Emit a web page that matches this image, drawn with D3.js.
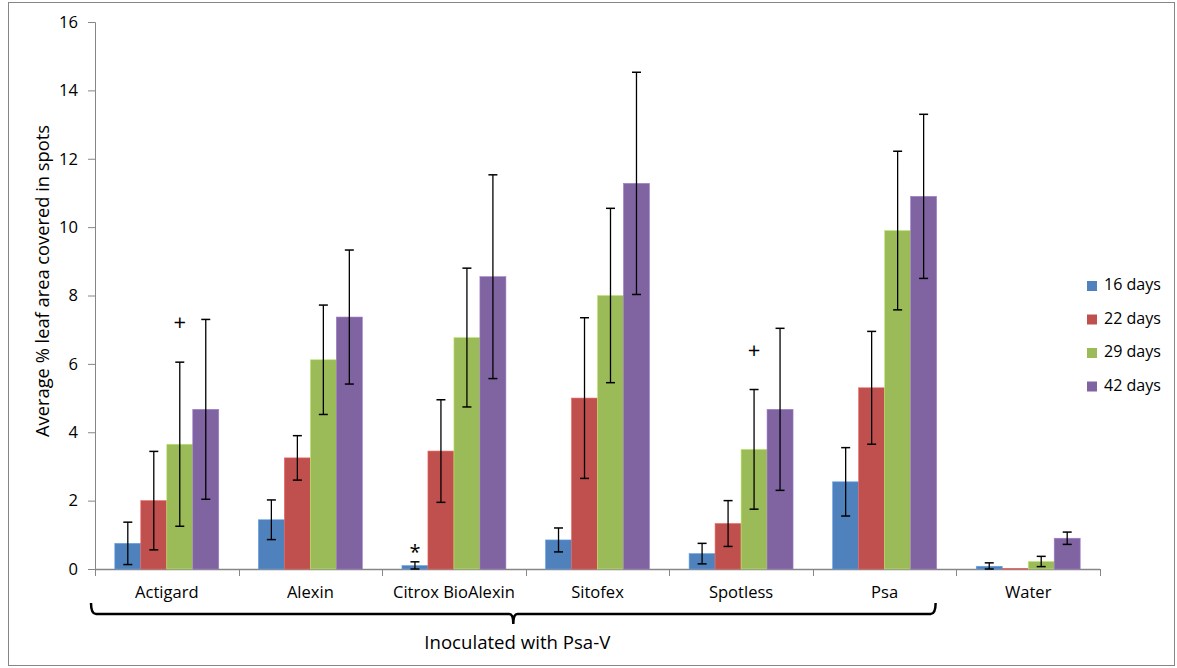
<!DOCTYPE html>
<html>
<head>
<meta charset="utf-8">
<script src="https://cdn.jsdelivr.net/npm/d3@7"></script>
<style>
  body { margin: 0; background: #fff; }
  svg text { font-family: "Open Sans", sans-serif; fill: #000; }
</style>
</head>
<body>
<svg id="chart" width="1177" height="668"></svg>
<script>
// data
const categories = ['Actigard', 'Alexin', 'Citrox BioAlexin', 'Sitofex', 'Spotless', 'Psa', 'Water']
const seriesNames = ['16 days', '22 days', '29 days', '42 days']
const colors = ['#4f81bd', '#c0504d', '#9bbb59', '#8064a2']

const days16 = [0.75, 1.44, 0.10, 0.85, 0.45, 2.55, 0.08]
const days22 = [2.00, 3.25, 3.45, 5.00, 1.33, 5.30, 0.01]
const days29 = [3.65, 6.12, 6.77, 8.00, 3.50, 9.90, 0.22]
const days42 = [4.67, 7.37, 8.55, 11.28, 4.67, 10.90, 0.90]

const err16 = [0.62, 0.58, 0.11, 0.35, 0.30, 1.00, 0.10]
const err22 = [1.44, 0.65, 1.50, 2.35, 0.67, 1.65, 0]
const err29 = [2.40, 1.60, 2.03, 2.55, 1.75, 2.32, 0.15]
const err42 = [2.63, 1.96, 2.98, 3.25, 2.37, 2.40, 0.18]

const yTicks = [0, 2, 4, 6, 8, 10, 12, 14, 16]

// significance markers: [category, series index, symbol, value]
const markers = [['Actigard', 2, '+', 7.15], ['Citrox BioAlexin', 0, '*', 0.45], ['Spotless', 2, '+', 6.35]]

const values = [days16, days22, days29, days42]
const errors = [err16, err22, err29, err42]

let svg = d3.select('#chart')

// pick a font size so that a sample string is about as wide as in the picture
function fitSize(sample, targetWidth) {
    let t = svg.append('text').attr('font-size', 20).text(sample)
    let w = t.node().getComputedTextLength()
    t.remove()
    return 20 * targetWidth / w
}
let catSize = fitSize('Citrox BioAlexin', 122)
let labelSize = fitSize('Average % leaf area covered in spots', 312)
let legendSize = fitSize('16 days', 57)
let noteSize = fitSize('Inoculated with Psa-V', 186)

// outer chart border
svg.append('rect')
    .attr('x', 8.5).attr('y', 2.5)
    .attr('width', 1166).attr('height', 663)
    .attr('fill', 'none').attr('stroke', '#868686')

let mLeft = 95, mRight = 1100, mTop = 22, mBottom = 569

let x0 = d3.scaleBand()
    .domain(categories)
    .range([mLeft, mRight])
    .paddingInner(0.276)
    .paddingOuter(0.138)

let step = (mRight - mLeft) / categories.length

let x1 = d3.scaleBand()
    .domain(d3.range(seriesNames.length))
    .range([0, x0.bandwidth()])

let y = d3.scaleLinear().domain([0, 16]).range([mBottom, mTop])

// y axis
let yAxis = svg.append('g')
    .attr('transform', `translate(${mLeft},0)`)
    .call(d3.axisLeft(y).tickValues(yTicks).tickSize(7).tickPadding(10))
yAxis.select('.domain').attr('stroke', '#868686')
yAxis.selectAll('.tick line').attr('stroke', '#868686')
yAxis.selectAll('.tick text').attr('font-size', catSize).attr('font-family', '"Open Sans", sans-serif')

// x axis (ticks between categories)
svg.append('line')
    .attr('x1', mLeft).attr('x2', mRight)
    .attr('y1', mBottom + 0.5).attr('y2', mBottom + 0.5)
    .attr('stroke', '#868686').attr('stroke-width', 1.5)
svg.selectAll('line.xtick')
    .data(d3.range(categories.length + 1))
    .enter().append('line')
    .attr('class', 'xtick')
    .attr('x1', i => Math.round(mLeft + i * step) + 0.5)
    .attr('x2', i => Math.round(mLeft + i * step) + 0.5)
    .attr('y1', mBottom).attr('y2', mBottom + 7)
    .attr('stroke', '#868686')

svg.selectAll('text.cat')
    .data(categories)
    .enter().append('text')
    .attr('class', 'cat')
    .attr('x', d => x0(d) + x0.bandwidth() / 2)
    .attr('y', mBottom + 29)
    .attr('text-anchor', 'middle')
    .attr('font-size', catSize)
    .text(d => d)

// y label
svg.append('text')
    .attr('transform', `translate(49,281) rotate(-90)`)
    .attr('text-anchor', 'middle')
    .attr('font-size', labelSize)
    .text('Average % leaf area covered in spots')

// bars
let groups = svg.selectAll('g.group')
    .data(categories)
    .enter().append('g')
    .attr('class', 'group')
    .attr('transform', d => `translate(${x0(d)},0)`)

groups.each(function (cat, ci) {
    let g = d3.select(this)
    seriesNames.forEach((s, si) => {
        let v = values[si][ci], e = errors[si][ci]
        g.append('rect')
            .attr('x', x1(si))
            .attr('y', y(v))
            .attr('width', x1.bandwidth())
            .attr('height', mBottom - y(v))
            .attr('fill', colors[si])
            .attr('stroke', d3.color(colors[si]).brighter(0.6))
            .attr('stroke-width', 0.6)
        if (e > 0) {
            let cx = x1(si) + x1.bandwidth() / 2
            let yt = y(v + e), yb = y(Math.max(0, v - e))
            g.append('line').attr('x1', cx).attr('x2', cx).attr('y1', yt).attr('y2', yb)
                .attr('stroke', '#000').attr('stroke-width', 1.3)
            ;[yt, yb].forEach(yy => {
                g.append('line').attr('x1', cx - 4.5).attr('x2', cx + 4.5).attr('y1', yy).attr('y2', yy)
                    .attr('stroke', '#000').attr('stroke-width', 1.5)
            })
        }
    })
})

// markers
svg.selectAll('text.mark')
    .data(markers)
    .enter().append('text')
    .attr('class', 'mark')
    .attr('x', d => x0(d[0]) + x1(d[1]) + x1.bandwidth() / 2)
    .attr('y', d => y(d[3]))
    .attr('text-anchor', 'middle')
    .attr('dominant-baseline', 'middle')
    .attr('font-size', d => d[2] === '+' ? 22 : 20)
    .attr('font-family', '"Liberation Sans", sans-serif')
    .attr('fill', '#222')
    .text(d => d[2])

// bracket under inoculated treatments
let bx0 = mLeft - 4, bx1 = x0('Psa') + x0.bandwidth() - 1
let bmid = (bx0 + bx1) / 2
let by = 614
svg.append('path')
    .attr('d', `M${bx0},603 Q${bx0},${by} ${bx0 + 5},${by} L${bmid - 4},${by} Q${bmid},${by} ${bmid},${by + 10} Q${bmid},${by} ${bmid + 4},${by} L${bx1 - 5},${by} Q${bx1},${by} ${bx1},603`)
    .attr('fill', 'none').attr('stroke', '#000').attr('stroke-width', 2.5)

svg.append('text')
    .attr('x', bmid + 4)
    .attr('y', 649)
    .attr('text-anchor', 'middle')
    .attr('font-size', noteSize)
    .text('Inoculated with Psa-V')

// legend
let legend = svg.selectAll('g.legend')
    .data(seriesNames)
    .enter().append('g')
    .attr('class', 'legend')
    .attr('transform', (d, i) => `translate(1087,${286 + i * 33.5})`)
legend.append('rect')
    .attr('x', 0).attr('y', -5).attr('width', 10).attr('height', 10)
    .attr('fill', (d, i) => colors[i])
legend.append('text')
    .attr('x', 17).attr('y', 0)
    .attr('dominant-baseline', 'middle')
    .attr('font-size', legendSize)
    .text(d => d)
</script>
</body>
</html>
